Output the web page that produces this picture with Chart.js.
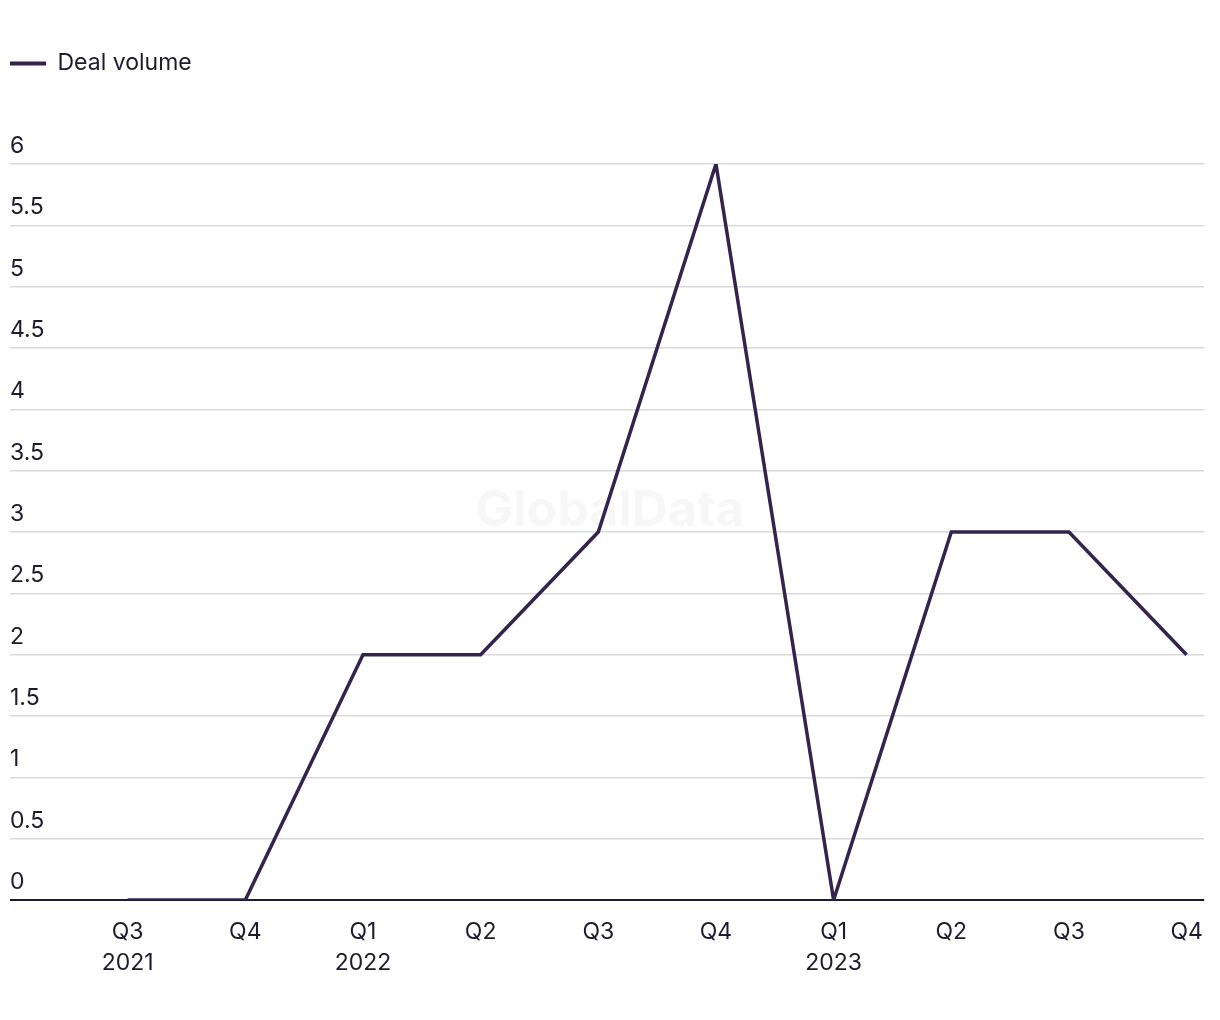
<!DOCTYPE html>
<html>
<head>
<meta charset="utf-8">
<script src="https://cdn.jsdelivr.net/npm/chart.js@4.4.1/dist/chart.umd.min.js"></script>
<style>
  html, body { margin: 0; padding: 0; background: #fff; overflow: hidden; }
  #wrap { width: 1220px; height: 1020px; position: relative; }
</style>
</head>
<body>
<div id="wrap"><canvas id="deals"></canvas></div>
<script>
// quarter labels + year under the first quarter of each year
const quarters = ['Q3', 'Q4', 'Q1', 'Q2', 'Q3', 'Q4', 'Q1', 'Q2', 'Q3', 'Q4'];
const years    = ['2021', '', '2022', '', '', '', '2023', '', '', ''];
const dealVolume = [0, 0, 2, 2, 3, 6, 0, 3, 3, 2];
const yTicks = [0, 0.5, 1, 1.5, 2, 2.5, 3, 3.5, 4, 4.5, 5, 5.5, 6];

const FONT = 'Inter, "Liberation Sans", sans-serif';
const FSIZE = 23;
const TEXT = '#1d1b2e';
const LINE = '#35234f';

// legend box stretched down to where the plot starts
const legendGap = {
    id: 'legendGap',
    beforeInit(chart) {
        const fit = chart.legend.fit;
        chart.legend.fit = function() {
            fit.call(this);
            this.height = 122;
        };
    }
};

// faint watermark behind the line
const watermark = {
    id: 'watermark',
    beforeDatasetsDraw(chart) {
        const { ctx } = chart;
        ctx.save();
        ctx.font = 'bold 50px ' + FONT;
        ctx.fillStyle = 'rgba(0,0,0,0.03)';
        ctx.textAlign = 'center';
        ctx.textBaseline = 'middle';
        ctx.fillText('GlobalData', 610, 511);
        ctx.restore();
    }
};

new Chart(document.getElementById('deals'), {
    type: 'line',
    data: {
        datasets: [{
            label: 'Deal volume',
            data: dealVolume.map((v, i) => ({ x: i, y: v })),
            borderColor: LINE,
            backgroundColor: LINE,
            borderWidth: 3.5,
            borderJoinStyle: 'miter',
            pointRadius: 0,
            tension: 0
        }]
    },
    options: {
        responsive: true,
        maintainAspectRatio: false,
        animation: false,
        layout: { padding: { top: 42, left: 0, right: 11, bottom: 0 } },
        plugins: {
            legend: {
                align: 'start',
                labels: {
                    boxWidth: 36,
                    boxHeight: 4,
                    color: TEXT,
                    font: { family: FONT, size: FSIZE },
                    generateLabels: (chart) => chart.data.datasets.map((ds, i) => ({
                        text: ds.label,
                        fillStyle: ds.borderColor,
                        strokeStyle: ds.borderColor,
                        lineWidth: 0,
                        fontColor: TEXT,
                        datasetIndex: i
                    }))
                }
            },
            tooltip: { enabled: false }
        },
        scales: {
            x: {
                type: 'linear',
                min: -1,
                max: 9.15,
                afterBuildTicks: (scale) => {
                    scale.ticks = quarters.map((q, i) => ({ value: i }));
                },
                afterFit: (scale) => { scale.height = 120; },
                grid: { display: false, drawTicks: false },
                border: { display: false },
                ticks: {
                    padding: 17,
                    color: TEXT,
                    maxRotation: 0,
                    autoSkip: false,
                    font: { family: FONT, size: FSIZE, lineHeight: 1.35 },
                    callback: (v) => years[v] ? [quarters[v], years[v]] : quarters[v]
                }
            },
            y: {
                min: 0,
                max: 6,
                afterBuildTicks: (scale) => {
                    scale.ticks = yTicks.map(v => ({ value: v }));
                },
                afterFit: (scale) => { scale.width = 10; },
                grid: {
                    drawTicks: false,
                    color: (c) => c.tick && c.tick.value === 0 ? '#1b1a30' : '#dadada',
                    lineWidth: (c) => c.tick && c.tick.value === 0 ? 2 : 1.5
                },
                border: { display: false },
                ticks: {
                    mirror: true,
                    padding: 0,
                    labelOffset: -18,
                    color: TEXT,
                    font: { family: FONT, size: FSIZE },
                    callback: (v) => String(v)
                }
            }
        }
    },
    plugins: [legendGap, watermark]
});
</script>
</body>
</html>
